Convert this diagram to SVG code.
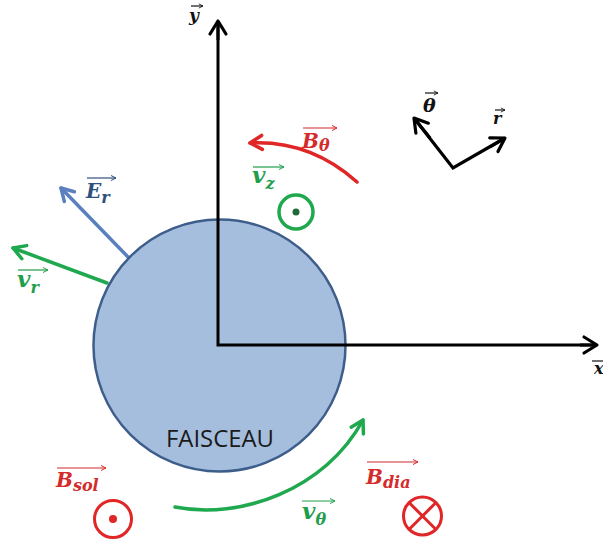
<svg xmlns="http://www.w3.org/2000/svg" width="603" height="544" viewBox="0 0 603 544">
  <style>
    .lbl { font-family: "DejaVu Serif", "Liberation Serif", serif; font-weight: bold; font-style: italic; }
    .main { font-size: 20px; }
    .vv { font-size: 23px; }
    .sub { font-size: 16px; }
    .red { fill: #d42b2b; }
    .grn { fill: #1f9e4c; }
    .blu { fill: #2f4f7f; }
    .blk { fill: #111111; }
    .ov { fill: none; stroke-width: 1.2; }
    .big { fill: none; stroke-width: 3.5; stroke-linecap: round; }
  </style>
  <defs>
    <marker id="hK" viewBox="0 0 20 20" refX="16" refY="10" markerWidth="20" markerHeight="20" markerUnits="userSpaceOnUse" orient="auto" overflow="visible">
      <path d="M3,2 L16,10 L3,18" fill="none" stroke="#000" stroke-width="3.2" stroke-linecap="round" stroke-linejoin="round"/>
    </marker>
    <marker id="hR" viewBox="0 0 20 20" refX="16" refY="10" markerWidth="20" markerHeight="20" markerUnits="userSpaceOnUse" orient="auto" overflow="visible">
      <path d="M4,3 L16,10 L4,17" fill="none" stroke="#e02626" stroke-width="3.5" stroke-linecap="round" stroke-linejoin="round"/>
    </marker>
    <marker id="hG" viewBox="0 0 20 20" refX="16" refY="10" markerWidth="20" markerHeight="20" markerUnits="userSpaceOnUse" orient="auto" overflow="visible">
      <path d="M4,3 L16,10 L4,17" fill="none" stroke="#1fa84e" stroke-width="3.5" stroke-linecap="round" stroke-linejoin="round"/>
    </marker>
    <marker id="hB" viewBox="0 0 20 20" refX="16" refY="10" markerWidth="20" markerHeight="20" markerUnits="userSpaceOnUse" orient="auto" overflow="visible">
      <path d="M4,3 L16,10 L4,17" fill="none" stroke="#5b80bf" stroke-width="3.5" stroke-linecap="round" stroke-linejoin="round"/>
    </marker>
    <marker id="oR" viewBox="0 0 6 6" refX="6" refY="3" markerWidth="6" markerHeight="6" markerUnits="userSpaceOnUse" orient="auto" overflow="visible">
      <path d="M1,0.5 L6,3 L1,5.5" fill="none" stroke="#d42b2b" stroke-width="1"/>
    </marker>
    <marker id="oG" viewBox="0 0 6 6" refX="6" refY="3" markerWidth="6" markerHeight="6" markerUnits="userSpaceOnUse" orient="auto" overflow="visible">
      <path d="M1,0.5 L6,3 L1,5.5" fill="none" stroke="#1f9e4c" stroke-width="1"/>
    </marker>
    <marker id="oB" viewBox="0 0 6 6" refX="6" refY="3" markerWidth="6" markerHeight="6" markerUnits="userSpaceOnUse" orient="auto" overflow="visible">
      <path d="M1,0.5 L6,3 L1,5.5" fill="none" stroke="#2f4f7f" stroke-width="1"/>
    </marker>
    <marker id="oK" viewBox="0 0 6 6" refX="6" refY="3" markerWidth="5" markerHeight="5" markerUnits="userSpaceOnUse" orient="auto" overflow="visible">
      <path d="M1,0.5 L6,3 L1,5.5" fill="none" stroke="#111" stroke-width="1"/>
    </marker>
  </defs>
  <rect x="0" y="0" width="603" height="544" fill="#ffffff"/>

  <!-- connectors / vectors -->
  <g id="connectors">
    <line x1="128" y1="257" x2="61" y2="188" class="big" stroke="#5b80bf" marker-end="url(#hB)"/>
    <line x1="107" y1="283" x2="13" y2="248" class="big" stroke="#1fa84e" marker-end="url(#hG)"/>
  </g>

  <g id="beam">
    <circle cx="219.5" cy="345.5" r="126" fill="#a6bedd" stroke="#3d5d8a" stroke-width="2.5"/>
    <text x="220" y="447" text-anchor="middle" font-family="'Open Sans', 'Liberation Sans', sans-serif" font-size="23" fill="#1a1a1a" textLength="108" lengthAdjust="spacingAndGlyphs">FAISCEAU</text>
  </g>

  <g id="axes">
    <polyline points="218,21 218,345 596,345" fill="none" stroke="#000" stroke-width="3" stroke-linejoin="miter"/>
    <line x1="218" y1="40" x2="218" y2="21" stroke="#000" stroke-width="3" marker-end="url(#hK)"/>
    <line x1="580" y1="345" x2="597" y2="345" stroke="#000" stroke-width="3" marker-end="url(#hK)"/>
    <text x="189" y="21" class="lbl blk" font-size="17">y</text>
    <line x1="191" y1="6" x2="203" y2="6" class="ov" stroke="#111" marker-end="url(#oK)"/>
    <text x="594" y="374" class="lbl blk" font-size="16">x</text>
    <line x1="592" y1="361" x2="603" y2="361" class="ov" stroke="#111"/>
  </g>

  <g id="frame">
    <polyline points="414,118 453,168 505,138" fill="none" stroke="#000" stroke-width="3.2" stroke-linejoin="miter"/>
    <line x1="430" y1="138" x2="414" y2="118" stroke="#000" stroke-width="3.2" marker-end="url(#hK)"/>
    <line x1="490" y1="147" x2="505" y2="138" stroke="#000" stroke-width="3.2" marker-end="url(#hK)"/>
    <text x="423" y="112" class="lbl blk" font-size="19">θ</text>
    <line x1="425" y1="93" x2="438" y2="93" class="ov" stroke="#111" marker-end="url(#oK)"/>
    <text x="493" y="124" class="lbl blk" font-size="16">r</text>
    <line x1="495" y1="110" x2="505" y2="110" class="ov" stroke="#111" marker-end="url(#oK)"/>
  </g>

  <g id="E_r">
    <text x="86" y="198" class="lbl blu"><tspan class="main" font-size="18">E</tspan><tspan class="sub" dy="5">r</tspan></text>
    <line x1="87" y1="178" x2="116" y2="178" class="ov" stroke="#2f4f7f" marker-end="url(#oB)"/>
  </g>

  <g id="v_r">
    <text x="17" y="287" class="lbl grn"><tspan class="vv">v</tspan><tspan class="sub" dy="6">r</tspan></text>
    <line x1="18" y1="270" x2="48" y2="270" class="ov" stroke="#1f9e4c" marker-end="url(#oG)"/>
  </g>

  <g id="B_theta">
    <path d="M357,182 Q310,140 250,143" class="big" stroke="#e02626" marker-end="url(#hR)"/>
    <text x="302" y="148" class="lbl red"><tspan class="main">B</tspan><tspan class="sub" dy="3">θ</tspan></text>
    <line x1="303" y1="128" x2="337" y2="128" class="ov" stroke="#d42b2b" marker-end="url(#oR)"/>
  </g>

  <g id="v_z">
    <text x="252" y="183" class="lbl grn"><tspan class="vv">v</tspan><tspan class="sub" dy="6">z</tspan></text>
    <line x1="253" y1="167" x2="284" y2="167" class="ov" stroke="#1f9e4c" marker-end="url(#oG)"/>
    <circle cx="296" cy="212" r="17" fill="none" stroke="#1fa84e" stroke-width="3.5"/>
    <circle cx="296" cy="212" r="3.5" fill="#1d6b3a"/>
  </g>

  <g id="B_sol">
    <text x="56" y="487" class="lbl red"><tspan class="main">B</tspan><tspan class="sub" dy="4">sol</tspan></text>
    <line x1="57" y1="468" x2="106" y2="468" class="ov" stroke="#d42b2b" marker-end="url(#oR)"/>
    <circle cx="113" cy="519" r="18.5" fill="none" stroke="#e02626" stroke-width="3"/>
    <circle cx="113" cy="519" r="4" fill="#e02626"/>
  </g>

  <g id="v_theta">
    <path d="M175,507 C240,520 325,490 363,420" class="big" stroke="#1fa84e" marker-end="url(#hG)"/>
    <text x="302" y="519" class="lbl grn"><tspan class="vv">v</tspan><tspan class="sub" dy="6">θ</tspan></text>
    <line x1="302" y1="501" x2="335" y2="501" class="ov" stroke="#1f9e4c" marker-end="url(#oG)"/>
  </g>

  <g id="B_dia">
    <text x="366" y="484" class="lbl red"><tspan class="main">B</tspan><tspan class="sub" dy="4">dia</tspan></text>
    <line x1="367" y1="462" x2="418" y2="462" class="ov" stroke="#d42b2b" marker-end="url(#oR)"/>
    <circle cx="422.5" cy="516" r="19" fill="none" stroke="#e02626" stroke-width="3"/>
    <line x1="409" y1="502.5" x2="436" y2="529.5" stroke="#e02626" stroke-width="3"/>
    <line x1="436" y1="502.5" x2="409" y2="529.5" stroke="#e02626" stroke-width="3"/>
  </g>
</svg>
